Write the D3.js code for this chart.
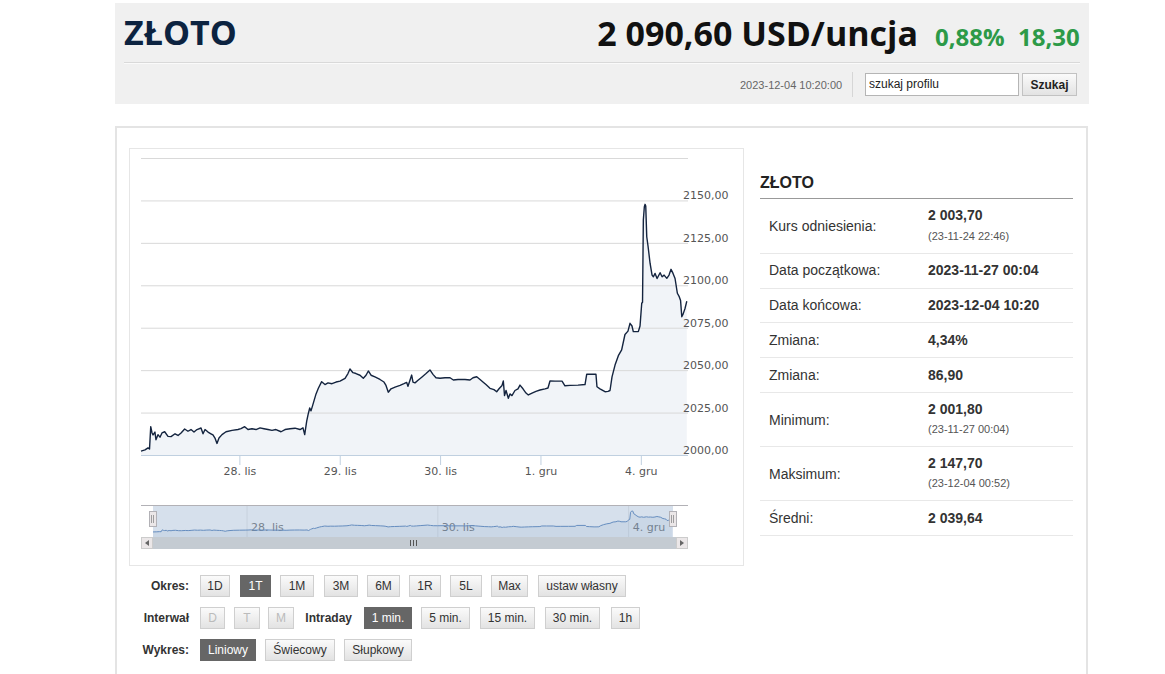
<!DOCTYPE html>
<html><head><meta charset="utf-8">
<script src="https://cdn.jsdelivr.net/npm/d3@7"></script>
<style>
html,body{margin:0;padding:0;background:#fff;}
svg text{font-family:"Liberation Sans",Arial,sans-serif;}
</style></head>
<body><svg id="c" width="1165" height="674"></svg>
<script>
// ---- data (trading-day offsets from 27 Nov 00:00, weekend removed) ----
const times = [0.020,0.060,0.090,0.105,0.117,0.130,0.140,0.159,0.169,0.189,0.209,0.229,0.256,0.289,0.319,0.359,0.389,0.419,0.455,0.488,0.518,0.548,0.578,0.618,0.638,0.658,0.688,0.717,0.737,0.757,0.777,0.797,0.827,0.867,0.927,0.986,1.016,1.053,1.086,1.126,1.166,1.206,1.245,1.285,1.325,1.365,1.415,1.455,1.505,1.554,1.604,1.634,1.651,1.671,1.684,1.701,1.714,1.734,1.764,1.787,1.820,1.853,1.883,1.923,1.963,2.003,2.053,2.082,2.102,2.132,2.162,2.202,2.235,2.262,2.285,2.312,2.351,2.401,2.441,2.461,2.484,2.511,2.551,2.601,2.640,2.667,2.680,2.700,2.717,2.730,2.750,2.780,2.820,2.860,2.899,2.929,2.959,2.999,3.049,3.099,3.132,3.178,3.248,3.298,3.328,3.365,3.398,3.427,3.457,3.497,3.537,3.564,3.587,3.617,3.630,3.642,3.657,3.680,3.696,3.716,3.746,3.776,3.796,3.826,3.856,3.879,3.916,3.955,3.995,4.045,4.075,4.095,4.145,4.215,4.244,4.294,4.374,4.444,4.461,4.553,4.563,4.593,4.643,4.673,4.693,4.713,4.743,4.776,4.809,4.842,4.872,4.892,4.912,4.925,4.975,4.992,5.009,5.017,5.025,5.035,5.042,5.049,5.059,5.072,5.092,5.112,5.125,5.142,5.162,5.192,5.212,5.232,5.259,5.281,5.301,5.321,5.341,5.364,5.381,5.396,5.408,5.421,5.441,5.458];
const prices = [2002.3,2003.0,2004.2,2003.5,2016.7,2013.0,2011.8,2013.5,2009.0,2012.0,2010.5,2013.0,2013.7,2011.0,2010.8,2012.5,2011.5,2013.0,2015.3,2014.0,2015.0,2013.5,2015.0,2015.9,2012.5,2015.0,2013.5,2012.5,2011.8,2010.0,2006.8,2010.0,2012.0,2013.7,2014.5,2015.0,2015.5,2016.7,2015.0,2015.5,2015.0,2016.0,2015.5,2015.0,2014.5,2015.0,2013.7,2015.0,2015.5,2015.8,2015.0,2016.0,2012.0,2020.0,2023.6,2027.7,2026.0,2030.0,2036.0,2039.3,2043.2,2041.5,2042.5,2042.0,2043.0,2043.5,2045.2,2048.0,2050.7,2048.5,2048.0,2047.0,2045.2,2047.0,2049.5,2047.0,2046.0,2044.5,2043.0,2041.0,2037.0,2039.0,2040.0,2041.0,2042.0,2042.8,2040.5,2044.0,2047.1,2043.0,2042.5,2044.0,2046.0,2048.0,2050.1,2047.5,2045.5,2045.2,2045.5,2045.5,2044.2,2044.5,2044.5,2044.2,2045.5,2046.1,2044.5,2043.0,2041.5,2039.3,2038.5,2037.3,2039.0,2041.0,2043.6,2035.0,2038.0,2033.4,2036.0,2035.0,2038.0,2039.0,2041.2,2039.0,2036.5,2035.4,2036.5,2037.5,2038.3,2039.0,2039.5,2043.6,2043.5,2043.5,2040.8,2041.0,2041.2,2041.5,2047.6,2047.6,2040.2,2039.0,2037.3,2037.5,2038.0,2046.0,2053.0,2058.5,2061.9,2071.0,2073.0,2077.6,2076.0,2072.7,2072.7,2076.0,2089.4,2090.0,2138.5,2146.3,2147.7,2146.7,2128.6,2123.0,2113.0,2106.0,2105.0,2107.0,2104.0,2107.4,2105.0,2106.0,2104.1,2106.0,2109.4,2107.0,2104.0,2095.3,2093.5,2091.0,2081.5,2083.0,2086.5,2090.6];
const xTickDays = [1,2,3,4,5];
const xTickLabels = ["28. lis","29. lis","30. lis","1. gru","4. gru"];
const navTickDays = [1,3,5];
const navTickLabels = ["28. lis","30. lis","4. gru"];
const yTicks = [2000,2025,2050,2075,2100,2125,2150,2175];
const yTickLabels = ["2000,00","2025,00","2050,00","2075,00","2100,00","2125,00","2150,00",""];

const statLabels = ["Kurs odniesienia:","Data początkowa:","Data końcowa:","Zmiana:","Zmiana:","Minimum:","Maksimum:","Średni:"];
const statValues = ["2 003,70","2023-11-27 00:04","2023-12-04 10:20","4,34%","86,90","2 001,80","2 147,70","2 039,64"];
const statSubs = ["(23-11-24 22:46)","","","","","(23-11-27 00:04)","(23-12-04 00:52)",""];

const okresBtns = ["1D","1T","1M","3M","6M","1R","5L","Max","ustaw własny"];
const interwalBtns = ["D","T","M"];
const intradayBtns = ["1 min.","5 min.","15 min.","30 min.","1h"];
const wykresBtns = ["Liniowy","Świecowy","Słupkowy"];

const data = times.map((t,i)=>({t, v: prices[i]}));
const svg = d3.select("#c");
const defs = svg.append("defs");
const g1 = defs.append("linearGradient").attr("id","btn").attr("x1",0).attr("y1",0).attr("x2",0).attr("y2",1);
g1.append("stop").attr("offset","0%").attr("stop-color","#fbfbfb");
g1.append("stop").attr("offset","100%").attr("stop-color","#e2e2e2");

// ---- header ----
svg.append("rect").attr("x",115).attr("y",3).attr("width",974).attr("height",101).attr("fill","#f0f0f0");
svg.append("text").attr("x",124).attr("y",45).text("ZŁOTO")
  .style("font-family","'Open Sans',sans-serif").style("font-weight",700).style("font-size","34px").attr("fill","#0c2340");
svg.append("text").attr("x",918).attr("y",46).attr("text-anchor","end").text("2 090,60 USD/uncja")
  .style("font-family","'Open Sans',sans-serif").style("font-weight",700).style("font-size","34px").attr("fill","#111");
svg.append("text").attr("x",935).attr("y",46).text("0,88%")
  .style("font-family","'Open Sans',sans-serif").style("font-weight",700).style("font-size","24px").attr("fill","#2d9a48");
svg.append("text").attr("x",1018).attr("y",46).text("18,30")
  .style("font-family","'Open Sans',sans-serif").style("font-weight",700).style("font-size","24px").attr("fill","#2d9a48");
svg.append("line").attr("x1",124).attr("x2",1080).attr("y1",62.5).attr("y2",62.5).attr("stroke","#d9d9d9");
svg.append("line").attr("x1",124).attr("x2",1080).attr("y1",63.5).attr("y2",63.5).attr("stroke","#fafafa");
svg.append("text").attr("x",740).attr("y",89).text("2023-12-04 10:20:00").style("font-size","11px").attr("fill","#666");
svg.append("line").attr("x1",852.5).attr("x2",852.5).attr("y1",72).attr("y2",97).attr("stroke","#d6d6d6");
svg.append("rect").attr("x",865.5).attr("y",73.5).attr("width",153).attr("height",22).attr("fill","#fff").attr("stroke","#b5b5b5");
svg.append("text").attr("x",869).attr("y",88).text("szukaj profilu").style("font-size","12px").attr("fill","#222");
svg.append("rect").attr("x",1022.5).attr("y",73.5).attr("width",54).attr("height",22).attr("fill","url(#btn)").attr("stroke","#c2c2c2");
svg.append("text").attr("x",1049.5).attr("y",89).attr("text-anchor","middle").text("Szukaj").style("font-size","12px").style("font-weight","bold").attr("fill","#222");

// ---- outer panel ----
svg.append("rect").attr("x",116).attr("y",127).attr("width",971).attr("height",560).attr("fill","#fff").attr("stroke","#e4e4e4").attr("stroke-width",2);
svg.append("rect").attr("x",129.5).attr("y",148.5).attr("width",614).attr("height",417).attr("fill","#fff").attr("stroke","#e6e6e6");

// ---- main chart ----
const x = d3.scaleLinear().domain([0.02,5.47]).range([141,688]);
const y = d3.scaleLinear().domain([2000,2175]).range([455,158]);

const area = d3.area().x(d=>x(d.t)).y0(y(2000)).y1(d=>y(d.v));
svg.append("path").datum(data).attr("d",area).attr("fill","#f1f4f8");

const yAxis = d3.axisRight(y).tickValues(yTicks).tickSize(-547).tickFormat((d,i)=>yTickLabels[i]);
const ya = svg.append("g").attr("transform","translate(688,0)").call(yAxis);
ya.select(".domain").remove();
ya.selectAll(".tick line").attr("stroke","#d9d9d9");
ya.selectAll(".tick text").attr("x",-5).attr("dy","-1.5").attr("text-anchor","start")
  .style("font-family","'DejaVu Sans',Verdana,sans-serif").style("font-size","11px").attr("fill","#555");

const line = d3.line().x(d=>x(d.t)).y(d=>y(d.v));
svg.append("path").datum(data).attr("d",line).attr("fill","none").attr("stroke","#14243f").attr("stroke-width",1.4).attr("stroke-linejoin","round");

const xAxis = d3.axisBottom(x).tickValues(xTickDays).tickSize(10).tickFormat((d,i)=>xTickLabels[i]);
const xa = svg.append("g").attr("transform","translate(0,455)").call(xAxis);
xa.select(".domain").attr("d","M141,0.5H688").attr("stroke","#c0d0e0");
xa.selectAll(".tick line").attr("stroke","#c0d0e0");
xa.selectAll(".tick text").attr("y",12).attr("dy","0.71em")
  .style("font-family","'DejaVu Sans',Verdana,sans-serif").style("font-size","11px").attr("fill","#555");

// ---- navigator ----
const nx = d3.scaleLinear().domain([0.02,5.47]).range([153,673]);
const ny = d3.scaleLinear().domain([2001.8,2147.7]).range([532,511]);
svg.append("rect").attr("x",141).attr("y",505).attr("width",547).attr("height",32).attr("fill","#fff");
const navAxis = d3.axisBottom(nx).tickValues(navTickDays).tickSize(-32).tickFormat((d,i)=>navTickLabels[i]);
const na = svg.append("g").attr("transform","translate(0,537)").call(navAxis);
na.select(".domain").remove();
na.selectAll(".tick line").attr("stroke","#ececec");
na.selectAll(".tick text").attr("x",4).attr("y",-6).attr("dy",0).attr("text-anchor","start")
  .style("font-family","'DejaVu Sans',Verdana,sans-serif").style("font-size","11px").attr("fill","#888");
const narea = d3.area().x(d=>nx(d.t)).y0(537).y1(d=>ny(d.v));
svg.append("path").datum(data).attr("d",narea).attr("fill","rgba(69,114,167,0.08)");
svg.append("path").datum(data).attr("d",d3.line().x(d=>nx(d.t)).y(d=>ny(d.v))).attr("fill","none").attr("stroke","#6f95c6").attr("stroke-width",1);
svg.append("rect").attr("x",153).attr("y",505).attr("width",520).attr("height",32).attr("fill","rgba(69,114,167,0.22)");
svg.append("path").attr("d","M141,505.5H688").attr("stroke","#b2b1b6");
[153,673].forEach(hx=>{
  svg.append("rect").attr("x",hx-3.5).attr("y",511.5).attr("width",7).attr("height",15).attr("fill","#ebe7e8").attr("stroke","#b2b1b6");
  svg.append("path").attr("d",`M${hx-1.5},515V523M${hx+0.5},515V523`).attr("stroke","#8a8a8a").attr("stroke-width",0.8);
});
// scrollbar
svg.append("rect").attr("x",141).attr("y",537).attr("width",547).attr("height",12).attr("fill","#eeeeee");
svg.append("rect").attr("x",153).attr("y",537).attr("width",523).attr("height",12).attr("fill","#c4cbd2");
svg.append("path").attr("d","M410.5,540V546M413.5,540V546M416.5,540V546").attr("stroke","#555").attr("stroke-width",1);
[[141,"M149,540L145,543L149,546Z"],[676,"M680,540L684,543L680,546Z"]].forEach(([bx,p])=>{
  svg.append("rect").attr("x",bx+0.5).attr("y",537.5).attr("width",11).attr("height",11).attr("fill","#ebe7e8").attr("stroke","#ccc");
  svg.append("path").attr("d",p).attr("fill","#666");
});

// ---- stats table ----
svg.append("text").attr("x",760).attr("y",188).text("ZŁOTO").style("font-size","16px").style("font-weight","bold").attr("fill","#222");
svg.append("line").attr("x1",760).attr("x2",1073).attr("y1",198.5).attr("y2",198.5).attr("stroke","#999");
const rowSep = [253,288,322,357,392,446,500,535];
const labY = [231,275,310,345,380,425,479,523];
const valY = [220,275,310,345,380,414,468,523];
const subY = [240,0,0,0,0,433,487,0];
statLabels.forEach((l,i)=>{
  svg.append("text").attr("x",769).attr("y",labY[i]).text(l).style("font-size","14px").attr("fill","#333");
  svg.append("text").attr("x",928).attr("y",valY[i]).text(statValues[i]).style("font-size","14px").style("font-weight","bold").attr("fill","#333");
  if(statSubs[i]) svg.append("text").attr("x",928).attr("y",subY[i]).text(statSubs[i]).style("font-size","11px").attr("fill","#555");
  svg.append("line").attr("x1",760).attr("x2",1073).attr("y1",rowSep[i]+0.5).attr("y2",rowSep[i]+0.5).attr("stroke","#e8e8e8");
});

// ---- buttons ----
function rowLabel(t,xe,yb){svg.append("text").attr("x",xe).attr("y",yb).attr("text-anchor","end").text(t).style("font-size","12px").style("font-weight","bold").attr("fill","#333");}
function btn(t,x0,x1,y0,state){
  const active = state==="active", dis = state==="disabled";
  svg.append("rect").attr("x",x0+0.5).attr("y",y0+0.5).attr("width",x1-x0).attr("height",21)
    .attr("fill",active?"#666":"url(#btn)").attr("stroke",active?"#666":"#cfcfcf");
  svg.append("text").attr("x",(x0+x1)/2+0.5).attr("y",y0+15).attr("text-anchor","middle").text(t)
    .style("font-size","12px").attr("fill",active?"#fff":(dis?"#bbb":"#333"));
}
rowLabel("Okres:",189,590);
const okX = [[200,229],[240,270],[280,313],[324,357],[367,399],[409,440],[450,481],[491,527],[538,625]];
okresBtns.forEach((b,i)=>btn(b,okX[i][0],okX[i][1],575,i===1?"active":""));
rowLabel("Interwał",189,622);
const inX = [[200,224],[234,259],[268,293]];
interwalBtns.forEach((b,i)=>btn(b,inX[i][0],inX[i][1],607,"disabled"));
rowLabel("Intraday",352,622);
const idX = [[364,411],[421,469],[480,534],[545,599],[611,639]];
intradayBtns.forEach((b,i)=>btn(b,idX[i][0],idX[i][1],607,i===0?"active":""));
rowLabel("Wykres:",189,654);
const wkX = [[200,255],[265,334],[344,411]];
wykresBtns.forEach((b,i)=>btn(b,wkX[i][0],wkX[i][1],639,i===0?"active":""));
</script></body></html>
